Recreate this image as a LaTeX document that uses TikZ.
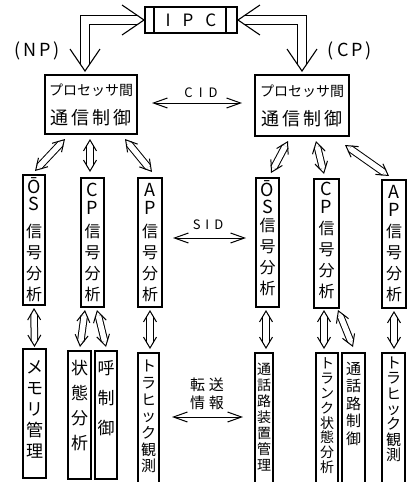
\documentclass[tikz,border=0pt]{standalone}
\usepackage{fontspec}
\setmainfont{Noto Sans CJK JP}
\usetikzlibrary{arrows.meta}
\newcommand{\vcol}[4]{\parbox[c][#2][t]{#1}{\centering\vspace*{#3}#4\par}}
\newcommand{\hol}[3]{\draw[#1shaft] #2 -- #3; \draw[#1head] #2 -- #3;}
\newcommand{\lt}[1]{{\fontsize{18}{21}\selectfont #1}}
\begin{document}
\begin{tikzpicture}[x=1pt,y=-1pt,
  every node/.style={inner sep=0pt, outer sep=0pt},
  frame/.style={draw, line width=1.1pt},
  colbox/.style={frame, anchor=north west},
  sarrow/.style={line width=1pt, {Straight Barb[length=14pt,width=10pt]}-{Straight Barb[length=14pt,width=10pt]}},
  bshaft/.style={draw, line width=1.1pt, double=white, double distance=8pt, shorten <=7pt, shorten >=7pt},
  bhead/.style={draw=white, line width=1pt, {Straight Barb[length=22pt,width=30pt,color=black,line width=1.1pt]}-{Straight Barb[length=22pt,width=30pt,color=black,line width=1.1pt]}},
  sshaft/.style={draw, line width=1pt, double=white, double distance=5.5pt, shorten <=6pt, shorten >=6pt},
  shead/.style={draw=white, line width=0.8pt, {Straight Barb[length=11pt,width=13pt,color=black,line width=1pt]}-{Straight Barb[length=11pt,width=13pt,color=black,line width=1pt]}},
  f16/.style={font=\fontsize{16}{21}\selectfont},
]
\useasboundingbox (0,0) rectangle (412,482);
\clip (0,0) rectangle (412,482);

% IPC
\node[frame, minimum width=92pt, minimum height=26pt, font=\fontsize{17}{17}\selectfont] (ipc) at (191,20) {I\hspace{12pt}P\hspace{12pt}C};
\draw[frame] ([shift={(9,0)}]ipc.north west) -- ([shift={(9,0)}]ipc.south west);
\draw[frame] ([shift={(-11,0)}]ipc.north east) -- ([shift={(-11,0)}]ipc.south east);

% processor boxes
\node[frame, minimum width=92pt, minimum height=59pt, align=center, font=\fontsize{14}{29}\selectfont] (np) at (91,104.5)
  {プロセッサ間\\{\fontsize{18}{29}\selectfont 通\hspace{3pt}信\hspace{3pt}制\hspace{3pt}御}};
\node[frame, minimum width=94pt, minimum height=61pt, align=center, font=\fontsize{14}{29}\selectfont] (cp) at (302,105.5)
  {プロセッサ間\\{\fontsize{18}{29}\selectfont 通\hspace{3pt}信\hspace{3pt}制\hspace{3pt}御}};

\node[font=\fontsize{18}{18}\selectfont] (nplbl) at (37,51) {(\hspace{3pt}N\hspace{3pt}P\hspace{3pt})};
\node[font=\fontsize{18}{18}\selectfont] (cplbl) at (350,51) {(\hspace{3pt}C\hspace{3pt}P\hspace{3pt})};

% IPC arrows
\draw[bshaft] (ipc.west) -| ([shift={(-6,-3)}]np.north);
\draw[bhead] (ipc.west) -| ([shift={(-6,-3)}]np.north);
\draw[bshaft] (ipc.east) -| ([shift={(0,-3)}]cp.north);
\draw[bhead] (ipc.east) -| ([shift={(0,-3)}]cp.north);

% CID
\node[font=\fontsize{13}{13}\selectfont] (cid) at (201,93) {C\hspace{6pt}I\hspace{6pt}D};
\draw[sarrow] ([shift={(15,-1.5)}]np.east) -- ([shift={(-13,-2.5)}]cp.west);

% level 2 boxes
\node[colbox, f16] (los) at (23,175) {\vcol{22pt}{130pt}{2.5pt}{\lt{Ō}\\[-4pt]\lt{S}\\[6pt]信\\号\\分\\析}};
\node[colbox, f16] (lcp) at (81,178) {\vcol{23pt}{129pt}{5.4pt}{\lt{C}\\[-3pt]\lt{P}\\[1.5pt]信\\号\\分\\析}};
\node[colbox, f16] (lap) at (138,178) {\vcol{24pt}{129pt}{5.4pt}{\lt{A}\\[-3pt]\lt{P}\\[1.5pt]信\\号\\分\\析}};
\node[colbox, f16] (ros) at (256,178) {\vcol{23pt}{129pt}{2.5pt}{\lt{Ō}\\[-4pt]\lt{S}\\[-3pt]信\\号\\分\\析}};
\node[colbox, f16] (rcp) at (314,179) {\vcol{25pt}{129pt}{3.4pt}{\lt{C}\\[-3pt]\lt{P}\\[0pt]信\\号\\分\\析}};
\node[colbox, f16] (rap) at (382,180) {\vcol{24pt}{128pt}{5.4pt}{\lt{A}\\[-3pt]\lt{P}\\[0pt]信\\号\\分\\析}};

% SID
\node[font=\fontsize{13}{13}\selectfont] (sid) at (208,225) {S\hspace{5pt}I\hspace{5pt}D};
\draw[sarrow] ([shift={(11,-4.5)}]lap.east) -- ([shift={(-10,-4.5)}]ros.west);

% level 3 boxes
\node[colbox, font=\fontsize{17}{21}\selectfont] (mem) at (23,349) {\vcol{23pt}{129pt}{12pt}{メ\\モ\\リ\\管\\理}};
\node[colbox, font=\fontsize{17}{25}\selectfont] (state) at (68,351) {\vcol{23pt}{128pt}{9pt}{状\\態\\分\\析}};
\node[colbox, font=\fontsize{17}{30}\selectfont] (call) at (95,351) {\vcol{22pt}{128pt}{10pt}{呼\\制\\御}};
\node[colbox, font=\fontsize{15}{16.7}\selectfont] (ltraf) at (138,353) {\vcol{21pt}{137pt}{7pt}{ト\\ラ\\ヒ\\ッ\\ク\\観\\測}};
\node[colbox, font=\fontsize{14}{16}\selectfont] (dev) at (255,353) {\vcol{18pt}{137pt}{10pt}{通\\話\\路\\装\\置\\管\\理}};
\node[colbox, font=\fontsize{14}{14.8}\selectfont] (trunk) at (316,353) {\vcol{22pt}{137pt}{5pt}{ト\\ラ\\ン\\ク\\状\\態\\分\\析}};
\node[colbox, font=\fontsize{15}{17.5}\selectfont] (pathctl) at (342,353) {\vcol{23pt}{137pt}{9pt}{通\\話\\路\\制\\御}};
\node[colbox, font=\fontsize{15}{15.3}\selectfont] (rtraf) at (382,353) {\vcol{23pt}{137pt}{4pt}{ト\\ラ\\ヒ\\ッ\\ク\\観\\測}};

% transfer info
\node[align=center, font=\fontsize{15}{18}\selectfont] (xfer) at (207,394) {転\hspace{4pt}送\\情\hspace{4pt}報};
\draw[sarrow] ([shift={(13,-4.5)}]ltraf.east) -- ([shift={(-12,-4.5)}]dev.west);

% level 1 -> 2 arrows
\hol{s}{([shift={(20,5)}]np.south west)}{([shift={(1,-4)}]los.north)}
\hol{s}{([shift={(-1,5)}]np.south)}{([shift={(-2.5,-6)}]lcp.north)}
\hol{s}{([shift={(-12,5)}]np.south east)}{([shift={(2,-6)}]lap.north)}
\hol{s}{([shift={(-14,5)}]cp.south)}{([shift={(3.5,-5)}]ros.north)}
\hol{s}{([shift={(14,5)}]cp.south)}{([shift={(-2.5,-5)}]rcp.north)}
\hol{s}{([shift={(-4,9)}]cp.south east)}{([shift={(-5,-4)}]rap.north)}

% level 2 -> 3 arrows
\hol{s}{([shift={(0,3)}]los.south)}{([shift={(0,-2)}]mem.north)}
\hol{s}{([shift={(-7.5,3)}]lcp.south)}{([shift={(0.5,-4)}]state.north)}
\hol{s}{([shift={(4.5,3)}]lcp.south)}{([shift={(0,-4)}]call.north)}
\hol{s}{([shift={(0,3)}]lap.south)}{([shift={(1.5,-4)}]ltraf.north)}
\hol{s}{([shift={(-1.5,3)}]ros.south)}{([shift={(2,-4)}]dev.north)}
\hol{s}{([shift={(-2.5,2)}]rcp.south)}{([shift={(-3,-4)}]trunk.north)}
\hol{s}{([shift={(-1,2)}]rcp.south east)}{([shift={(-0.5,-6)}]pathctl.north)}
\hol{s}{([shift={(0,3)}]rap.south)}{([shift={(0.5,-4)}]rtraf.north)}
\end{tikzpicture}
\end{document}
